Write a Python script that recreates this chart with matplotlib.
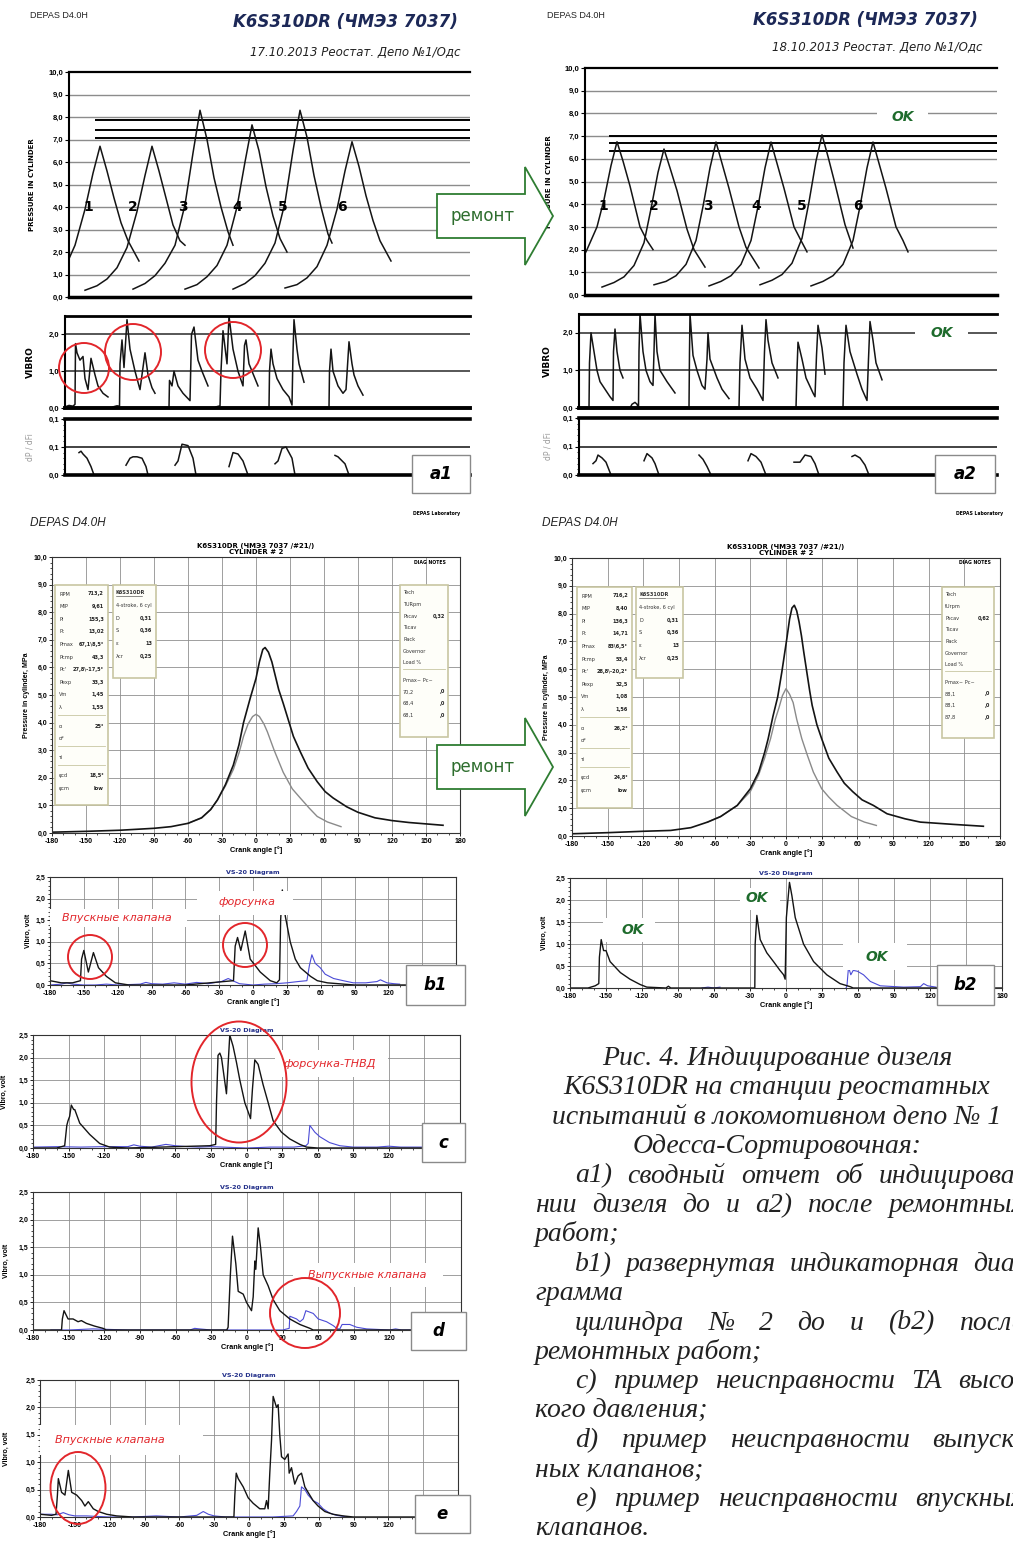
import numpy as np
import matplotlib
matplotlib.use("Agg")
import matplotlib.pyplot as plt
from matplotlib.patches import Rectangle, Polygon, Ellipse
from matplotlib.ticker import MultipleLocator

W, H = 1013, 1543

# ---------------- a1 / a2 : summary reports (6 cylinders) ----------------
# sheet x units: pixels from the left edge of the pressure frame
A1_PEAK_X = [31, 83, 131, 183, 231, 283]
A1_REL = [-67, -55, -45, -35, -25, -15, -7, 0, 7, 14, 21, 28]
A1_END = [39, 33, 33, 35, 32, 39]
A1_P = [
    [0.3, 0.5, 0.8, 1.3, 2.3, 3.9, 5.5, 6.7, 5.6, 4.4, 3.3, 2.5, 1.6],
    [0.3, 0.5, 0.8, 1.3, 2.2, 3.8, 5.4, 6.7, 5.6, 4.4, 3.2, 2.5, 2.3],
    [0.35, 0.6, 0.95, 1.5, 2.3, 4.1, 6.4, 8.3, 7.0, 5.3, 4.0, 2.9, 2.3],
    [0.35, 0.55, 0.9, 1.4, 2.3, 4.0, 6.0, 7.65, 6.5, 4.9, 3.6, 2.6, 2.0],
    [0.35, 0.6, 0.95, 1.5, 2.4, 4.2, 6.5, 8.3, 7.1, 5.4, 4.0, 2.8, 2.4],
    [0.4, 0.55, 0.85, 1.35, 2.3, 3.9, 5.6, 6.9, 5.8, 4.5, 3.4, 2.5, 1.6],
]
A1_NUM_X = [19, 64, 114, 168, 214, 273]
A1_LIMITS = [7.87, 7.42, 7.07]

A1_VIB_X = [
    [-4, 0, 4, 6, 6.5, 8, 11, 14, 16, 19, 22, 26, 29, 34, 39],
    [44, 48, 50.5, 51, 53, 55, 58, 61, 66, 71, 76, 79, 83, 86],
    [100, 100.5, 103, 105, 109, 114, 121, 122.5, 125, 129, 133, 139],
    [147, 151, 152, 154, 158, 160, 164, 169, 174, 175.5, 177, 180, 183, 189],
    [200, 200.5, 202, 204, 208, 214, 220, 223, 224, 225, 228, 230, 234, 235],
    [260, 260.5, 262, 264, 269, 274, 277, 280, 283, 285, 289, 294],
]
A1_VIB_Y = [
    [0.03, 0.07, 0.05, 0.1, 1.75, 1.5, 1.3, 1.4, 0.8, 0.5, 1.35, 0.9, 0.6, 0.4, 0.3],
    [0.03, 0.06, 0.05, 1.2, 1.85, 1.1, 2.4, 1.6, 1.0, 0.5, 1.5, 0.9, 0.55, 0.4],
    [0.0, 0.75, 0.6, 1.0, 0.6, 0.4, 0.2, 2.0, 2.2, 1.3, 1.0, 0.6],
    [0.03, 0.06, 1.0, 2.1, 1.2, 2.5, 1.6, 1.0, 0.6, 1.7, 1.85, 1.2, 1.0, 0.6],
    [0.0, 1.0, 1.6, 1.2, 0.8, 0.5, 0.3, 0.08, 1.5, 2.4, 1.6, 1.2, 0.8, 0.7],
    [0.0, 1.0, 1.6, 1.0, 0.6, 0.4, 0.5, 1.8, 1.2, 0.9, 0.6, 0.35],
]
A1_DP_X = [
    [10, 12, 14, 18, 22, 25],
    [57, 61, 64, 68, 73, 77, 79],
    [106, 109, 113, 119, 124, 127],
    [160, 164, 169, 174, 179],
    [206, 209, 213, 217, 223, 226],
    [266, 269, 276, 280],
]
A1_DP_Y = [
    [0.08, 0.085, 0.075, 0.06, 0.03, 0.0],
    [0.035, 0.06, 0.065, 0.065, 0.06, 0.03, 0.0],
    [0.035, 0.05, 0.11, 0.105, 0.06, 0.0],
    [0.03, 0.08, 0.075, 0.05, 0.0],
    [0.04, 0.05, 0.095, 0.1, 0.06, 0.0],
    [0.07, 0.065, 0.04, 0.0],
]

A2_PEAK_X = [32, 79, 131, 186, 237, 288]
A2_REL = [-62, -50, -40, -30, -20, -13, -6, 0, 6, 13, 23, 30]
A2_END = [36, 41, 43, 36, 31, 35]
A2_P = [
    [0.3, 0.6, 1.1, 2.0, 3.0, 4.2, 5.7, 6.75, 5.9, 4.8, 3.0, 2.4, 2.0],
    [0.35, 0.55, 0.8, 1.3, 2.3, 3.8, 5.4, 6.43, 5.6, 4.6, 2.9, 2.0, 1.23],
    [0.45, 0.6, 0.85, 1.35, 2.4, 3.9, 5.6, 6.74, 5.8, 4.7, 3.0, 2.1, 1.19],
    [0.4, 0.6, 0.85, 1.35, 2.4, 3.9, 5.6, 6.74, 5.8, 4.7, 3.0, 2.4, 1.9],
    [0.45, 0.65, 0.9, 1.4, 2.5, 4.1, 5.9, 7.06, 6.1, 4.9, 3.1, 2.2, 2.07],
    [0.4, 0.6, 0.85, 1.35, 2.4, 3.9, 5.6, 6.74, 5.8, 4.7, 3.0, 2.4, 1.9],
]
A2_NUM_X = [18, 69, 123, 171, 217, 273]
A2_LIMITS = [7.0, 6.68, 6.34]

A2_VIB_X = [
    [-6, 4, 4.5, 6, 9, 12, 15, 20, 25, 28, 28.5, 30, 32, 35, 38],
    [45, 47, 50, 52, 53.5, 54, 55, 58, 61, 65, 68, 69, 70, 72, 75, 82, 90],
    [104, 104.5, 105, 108, 112, 117, 120, 122, 123, 125, 132, 137, 144],
    [154, 155, 157, 160, 165, 172, 178, 179.5, 181, 183, 187, 193],
    [211, 212, 213, 217, 221, 228, 230, 231.5, 233, 237, 240],
    [258, 259, 261, 265, 272, 277, 282, 283.5, 285, 288, 291, 297],
]
A2_VIB_Y = [
    [0, 0, 1.2, 2.0, 1.5, 1.0, 0.7, 0.5, 0.3, 0.2, 1.5, 2.1, 1.5, 1.0, 0.8],
    [0, 0.1, 0.15, 0.1, 0.0, 1.5, 2.5, 1.5, 1.0, 0.7, 0.6, 1.5, 2.5, 1.5, 1.0, 0.7, 0.4],
    [0, 1.5, 2.5, 1.4, 1.0, 0.6, 0.5, 1.3, 2.0, 1.3, 0.8, 0.5, 0.25],
    [0, 1.2, 2.2, 1.3, 0.8, 0.5, 0.2, 1.5, 2.35, 1.8, 1.2, 0.8],
    [0, 1.0, 1.75, 1.3, 0.8, 0.4, 0.3, 1.4, 2.2, 1.6, 0.9],
    [0, 1.2, 2.2, 1.5, 0.9, 0.5, 0.2, 1.3, 2.3, 1.8, 1.2, 0.75],
]
A2_DP_X = [
    [8, 11, 13, 17, 21, 26],
    [59, 62, 67, 70, 74],
    [114, 118, 122, 126],
    [163, 166, 171, 176, 181],
    [209, 215, 220, 226, 230, 234],
    [267, 270, 275, 280, 284],
]
A2_DP_Y = [
    [0.04, 0.05, 0.07, 0.06, 0.045, 0.0],
    [0.05, 0.075, 0.06, 0.04, 0.0],
    [0.07, 0.055, 0.03, 0.0],
    [0.05, 0.075, 0.065, 0.045, 0.0],
    [0.045, 0.045, 0.07, 0.065, 0.04, 0.0],
    [0.065, 0.07, 0.06, 0.035, 0.0],
]

# ---------------- b1 / b2 : cylinder 2 pressure, crank angle in degrees ----------------
B1_ANG = [-180, -150, -120, -90, -75, -60, -48, -40, -34, -27, -20, -15, -11, -5, 0, 3, 6, 8, 11, 14, 17, 20,
          24, 27, 33, 39, 46, 54, 61, 68, 80, 90, 105, 120, 135, 150, 165]
B1_PCYL = [0.03, 0.06, 0.1, 0.17, 0.23, 0.35, 0.55, 0.85, 1.2, 1.75, 2.46, 3.2, 4.0, 4.9, 5.6, 6.2, 6.65, 6.72,
           6.55, 6.2, 5.7, 5.2, 4.7, 4.3, 3.5, 2.95, 2.35, 1.86, 1.5, 1.27, 0.95, 0.75, 0.55, 0.45, 0.38, 0.33, 0.28]
B1_MOT_ANG = [-60, -48, -40, -34, -27, -20, -15, -11, -7, -3, 0, 3, 7, 10, 16, 24, 32, 39, 47, 54, 63, 75]
B1_PMOT = [0.35, 0.55, 0.85, 1.2, 1.7, 2.3, 2.9, 3.5, 3.95, 4.22, 4.3, 4.22, 3.95, 3.67, 3.0, 2.2, 1.6, 1.27,
           0.9, 0.6, 0.4, 0.23]

B2_ANG = [-180, -150, -120, -97, -80, -66, -55, -41, -30, -23, -18, -15, -11, -7, -3.5, 0.7, 3, 5, 7, 9, 11, 13,
          15, 17.5, 20, 22, 26, 30, 36, 43, 49, 56, 64, 73.5, 85, 100, 113, 140, 166]
B2_PCYL = [0.08, 0.12, 0.17, 0.2, 0.3, 0.5, 0.7, 1.1, 1.7, 2.3, 3.0, 3.5, 4.3, 5.0, 5.9, 7.1, 7.8, 8.2, 8.3, 8.1,
           7.7, 7.2, 6.6, 5.9, 5.2, 4.7, 4.0, 3.5, 2.8, 2.3, 1.9, 1.6, 1.3, 1.1, 0.8, 0.62, 0.5, 0.42, 0.35]
B2_MOT_ANG = [-66, -55, -41, -30, -23, -18, -13, -9, -6, -3, 0, 3, 6, 9, 13.3, 18, 23, 30, 36, 43, 55, 66, 76]
B2_PMOT = [0.5, 0.7, 1.1, 1.6, 2.2, 2.8, 3.5, 4.2, 4.6, 5.05, 5.3, 5.1, 4.8, 4.2, 3.5, 2.9, 2.3, 1.7, 1.4, 1.1,
           0.7, 0.5, 0.38]

B1_BOX1 = [("RPM", "713,2"), ("MIP", "9,61"), ("Pi", "155,3"), ("Pt", "13,02"), ("Pmax", "67,1\\8,5°"),
           ("Pcmp", "43,3"), ("Pc'", "27,8\\-17,5°"), ("Pexp", "33,3"), ("Vm", "1,45"), ("λ", "1,55"), None,
           ("α", "25°"), ("α*", ""), None, ("τi", ""), None, ("φcd", "18,5°"), ("φcm", "low")]
B2_BOX1 = [("RPM", "716,2"), ("MIP", "8,40"), ("Pi", "136,3"), ("Pt", "14,71"), ("Pmax", "83\\6,5°"),
           ("Pcmp", "53,4"), ("Pc'", "28,8\\-20,2°"), ("Pexp", "32,5"), ("Vm", "1,08"), ("λ", "1,56"), None,
           ("α", "26,2°"), ("α*", ""), None, ("τi", ""), None, ("φcd", "24,8°"), ("φcm", "low")]
ENGINE_BOX = [("K6S310DR", ""), ("4-stroke, 6 cyl", ""), ("D", "0,31"), ("S", "0,36"), ("ε", "13"), ("λcr", "0,25")]
B1_BOX3 = [("Tech", ""), ("TURpm", ""), ("Pscav", "0,32"), ("Tscav", ""), ("Rack", ""), ("Governor", ""),
           ("Load %", ""), None, ("Pmax~ Pc~", ""), ("70,2", ",0"), ("68,4", ",0"), ("68,1", ",0")]
B2_BOX3 = [("Tech", ""), ("tUrpm", ""), ("Pscav", "0,62"), ("Tscav", ""), ("Rack", ""), ("Governor", ""),
           ("Load %", ""), None, ("Pmax~ Pc~", ""), ("88,1", ",0"), ("88,1", ",0"), ("87,8", ",0")]

# ---------------- vibration diagrams (VS-20), crank angle in degrees ----------------
B1V_ANG = [-180, -170, -160, -153, -152, -150, -146, -141.5, -137, -130, -122, -110, -60, -17.3, -15.8, -13.7,
           -10.8, -6.9, -2.5, 2, 6.4, 15.3, 21, 23.5, 24.5, 26, 28.6, 33, 37.5, 42, 51, 57, 66, 90, 180]
B1V_BLK = [0.1, 0.05, 0.05, 0.1, 0.6, 0.8, 0.3, 0.75, 0.4, 0.2, 0.05, 0.0, 0.0, 0.1, 0.9, 1.1,
           0.8, 1.25, 0.6, 0.45, 0.3, 0.1, 0.05, 0.12, 1.5, 2.2, 1.6, 1.0, 0.6, 0.4, 0.2, 0.1, 0.05, 0.0, 0.0]
B1V_BLUE_ANG = [-180, -170, -165, -160, -150, -140, -130, -120, -100, -95, -90, -80, -70, -60, -50, -40, -28, -22,
                -18, -12, 0, 10, 20, 30, 40, 47.8, 50, 52.2, 55.2, 59.6, 64, 71.5, 80, 89, 100, 110, 113, 118.8, 125, 130]
B1V_BLUE = [0.0, 0.02, 0.05, 0.02, 0.0, 0.0, 0.02, 0.0, 0.02, 0.06, 0.03, 0.02, 0.05, 0.02, 0.06, 0.03, 0.08, 0.15,
            0.1, 0.03, 0.0, 0.02, 0.03, 0.05, 0.08, 0.1, 0.45, 0.7, 0.5, 0.4, 0.25, 0.15, 0.1, 0.05, 0.05, 0.08, 0.12, 0.05, 0.03, 0.02]

B2V_ANG = [-180, -165, -159, -156, -155.5, -154, -152, -150, -146.6, -138, -130, -121.6, -116, -100, -98, -96, -60,
           -26, -25.7, -24.3, -21.5, -16, -10.4, -5, -2, -0.7, 0.3, 2.9, 4.9, 7.7, 14.6, 23, 34, 45, 53.5, 56, 180]
B2V_BLK = [0.0, 0.0, 0.05, 0.1, 0.7, 1.1, 0.85, 0.85, 0.6, 0.35, 0.2, 0.08, 0.02, 0.0, 0.04, 0.0, 0.0,
           0.0, 1.0, 1.65, 1.1, 0.8, 0.6, 0.4, 0.3, 0.2, 1.6, 2.4, 2.1, 1.6, 1.0, 0.6, 0.3, 0.1, 0.03, 0.0, 0.0]
B2V_BLUE_ANG = [-70, -65, -60, -55, -50, 50, 50.8, 52.1, 54, 56, 59.6, 64.6, 70.2, 78.5, 98, 112, 114.7, 118, 125]
B2V_BLUE = [0.0, 0.02, 0.0, 0.02, np.nan, 0.0, 0.05, 0.48, 0.3, 0.4, 0.38, 0.3, 0.15, 0.05, 0.02, 0.03, 0.1, 0.05, 0.02]

C_ANG = [-180, -160, -153.3, -151.5, -150.5, -149.1, -147.7, -145.7, -144.8, -140.6, -132.2, -123.8, -115.3, -100,
         -31, -26, -25.3, -24, -22.5, -21.1, -16.9, -14.1, -11.3, -8.5, -5.6, -1.4, 1.4, 3.4, 5, 7, 9.8, 14, 18.3,
         22.5, 29.5, 36.5, 45, 50.6, 60, 180]
C_BLK = [0.0, 0.0, 0.05, 0.5, 0.6, 0.7, 0.95, 0.85, 0.85, 0.55, 0.3, 0.1, 0.02, 0.0,
         0.05, 0.08, 1.0, 2.05, 2.1, 2.0, 1.2, 2.5, 2.25, 1.9, 1.5, 1.0, 0.8, 0.65, 1.3, 1.95, 1.85, 1.4, 1.0,
         0.6, 0.35, 0.2, 0.08, 0.02, 0.0, 0.0]
C_BLUE_ANG = [-180, -160, -140, -120, -100, -95, -90, -80, -72, -68, -60, -50, -40, -30, -20, 0, 20, 40, 50, 52,
              53.4, 57.6, 61.8, 70, 78.7, 90, 110, 120, 125, 130, 150]
C_BLUE = [0.02, 0.03, 0.02, 0.03, 0.03, 0.07, 0.04, 0.02, 0.06, 0.08, 0.05, 0.03, 0.02, 0.03, 0.02, 0.0, 0.02, 0.02,
          0.05, 0.1, 0.5, 0.35, 0.25, 0.12, 0.05, 0.02, 0.02, 0.04, 0.03, 0.02, 0.02]

D_ANG = [-180, -156, -155.3, -153.9, -150.5, -146.3, -142.1, -139.3, -135.1, -128.1, -121.1, -118.3, -100, -17,
         -15.9, -14, -12.2, -9.4, -7.4, -3.2, -0.4, 2.4, 3.8, 5.2, 6.6, 7.4, 9.4, 11.4, 13.6, 17.8, 22, 27.6, 36,
         44.5, 52.9, 55.7, 180]
D_BLK = [0.0, 0.0, 0.2, 0.35, 0.2, 0.2, 0.15, 0.17, 0.12, 0.07, 0.03, 0.0, 0.0, 0.0,
         0.05, 1.0, 1.7, 1.2, 0.7, 0.65, 0.5, 0.4, 0.35, 0.6, 1.25, 1.1, 1.85, 1.5, 1.0, 0.8, 0.55, 0.35, 0.2,
         0.1, 0.03, 0.0, 0.0]
D_BLUE_ANG = [-165, -150, -130, -100, -60, -48, -44, -40, -30, -10, 10, 30, 35.5, 36, 41.7, 44.5, 47.3, 49.5, 55.7,
              59.9, 66.9, 72.5, 76, 78.1, 80, 86.5, 92.2, 100.6, 120, 125, 130, 140]
D_BLUE = [0.0, 0.0, 0.02, 0.0, 0.0, 0.0, 0.03, 0.02, 0.0, 0.0, 0.0, 0.0, 0.03, 0.25, 0.2, 0.15, 0.2, 0.35, 0.3,
          0.2, 0.15, 0.08, 0.02, 0.02, 0.1, 0.1, 0.05, 0.02, 0.0, 0.02, 0.0, 0.0]

E_ANG = [-180, -170, -166.2, -165, -164.2, -161.4, -158.5, -155.6, -152.7, -148.4, -144.1, -141.3, -138.4, -134.1,
         -129.8, -122.6, -114, -100, -13, -12.2, -11, -9.3, -5, -0.7, 3.6, 9.3, 13.6, 15.1, 16.5, 17.9, 19.4, 20.8,
         23.7, 25.1, 26.5, 28, 30.8, 33.7, 34.6, 36.6, 39.4, 42.3, 45.2, 48.1, 50.9, 55.2, 59.5, 65.3, 72.4, 81, 90, 180]
E_BLK = [0.05, 0.03, 0.05, 0.4, 0.7, 0.45, 0.4, 0.85, 0.45, 0.4, 0.3, 0.2, 0.28, 0.15,
         0.1, 0.05, 0.02, 0.0, 0.0, 0.4, 0.8, 0.7, 0.55, 0.35, 0.25, 0.15, 0.15, 0.3, 0.15, 0.8, 1.4, 2.2,
         2.0, 2.05, 1.5, 1.1, 1.05, 1.15, 0.8, 0.9, 0.6, 0.75, 0.8, 0.55, 0.45, 0.3, 0.2, 0.1, 0.05, 0.02, 0.0, 0.0]
E_BLUE_ANG = [-180, -170, -165, -160, -155, -150, -140, -120, -100, -80, -60, -45, -39.4, -35, -30, -20, 0, 20, 38,
              40.9, 43.8, 45.2, 48.1, 50.9, 55.2, 59.5, 63.8, 69.6, 75.3, 85]
E_BLUE = [0.05, 0.05, 0.04, 0.08, 0.04, 0.02, 0.02, 0.0, 0.0, 0.02, 0.0, 0.03, 0.1, 0.05, 0.02, 0.0, 0.0, 0.0, 0.02,
          0.1, 0.2, 0.55, 0.5, 0.4, 0.3, 0.25, 0.15, 0.07, 0.03, 0.0]

CAPTION = [
    ("Рис. 4. Индицирование дизеля", "center"),
    ("K6S310DR на станции реостатных", "center"),
    ("испытаний в локомотивном депо № 1", "center"),
    ("Одесса-Сортировочная:", "center"),
    ("a1) сводный отчет об индицирова-", "indent"),
    ("нии дизеля до и a2) после ремонтных", "just"),
    ("работ;", "left"),
    ("b1) развернутая индикаторная диа-", "indent"),
    ("грамма", "left"),
    ("цилиндра № 2 до и (b2) после", "indent"),
    ("ремонтных работ;", "left"),
    ("c) пример неисправности ТА высо-", "indent"),
    ("кого давления;", "left"),
    ("d) пример неисправности выпуск-", "indent"),
    ("ных клапанов;", "left"),
    ("e) пример неисправности впускных", "indent"),
    ("клапанов.", "left"),
]

BLACK = "#141414"
BLUE = "#4b4bd6"
RED = "#e2262b"
GREEN = "#1e6b2c"
TICK_FONT = dict(fontsize=5.5, fontweight="bold", family="Liberation Sans")
SMALL_FONT = dict(fontsize=5.0, fontweight="bold", family="Liberation Sans")

fig = plt.figure(figsize=(W / 100, H / 100), dpi=100)


def px_axes(x0, y0, x1, y1):
    return fig.add_axes([x0 / W, 1 - y1 / H, (x1 - x0) / W, (y1 - y0) / H])


def draw_summary(pp, vp, dp, lab_x, peaks, rel, ends, curves, num_x, num_y, limits, lim_x0,
                 vib_x, vib_y, dp_x, dp_y):
    off = pp[0]
    # pressure
    ax = px_axes(*pp)
    ax.set_xlim(0, pp[2] - off)
    ax.set_ylim(0, 10)
    ax.set_xticks([])
    ax.set_yticks(range(11))
    ax.set_yticklabels([f"{v},0" for v in range(11)], **TICK_FONT)
    for v in range(1, 10):
        ax.axhline(v, color="#8c8c8c", lw=1.0, zorder=0)
    ax.hlines(limits, lim_x0, pp[2] - off, color="black", lw=1.4)
    for pk, vals, end in zip(peaks, curves, ends):
        xs = [pk + r for r in rel] + [pk + end]
        ax.plot(xs, vals, color=BLACK, lw=1.1)
    for i, x in enumerate(num_x):
        ax.text(x, num_y, str(i + 1), fontsize=10, fontweight="bold", ha="center", va="center")
    ax.spines["right"].set_visible(False)
    ax.spines["top"].set_linewidth(1.6)
    ax.spines["bottom"].set_linewidth(2.5)
    ax.spines["left"].set_linewidth(1.5)
    ax.tick_params(axis="y", length=3, width=0.8, pad=1)
    ax.set_ylabel("PRESSURE IN CYLINDER", fontsize=5, fontweight="bold")
    ax.yaxis.set_label_coords((lab_x - pp[0]) / (pp[2] - pp[0]), 0.5)

    # vibration
    av = px_axes(*vp)
    av.set_xlim(vp[0] - off, vp[2] - off)
    av.set_ylim(0, 2.5)
    av.set_xticks([])
    av.set_yticks([0, 1, 2])
    av.set_yticklabels(["0,0", "1,0", "2,0"], **TICK_FONT)
    for v in (1, 2):
        av.axhline(v, color="#3a3a3a", lw=1.2, zorder=0)
    for xs, ys in zip(vib_x, vib_y):
        av.plot(xs, ys, color=BLACK, lw=1.1)
    av.spines["right"].set_visible(False)
    av.spines["top"].set_linewidth(2.0)
    av.spines["bottom"].set_linewidth(2.8)
    av.spines["left"].set_linewidth(1.5)
    av.tick_params(axis="y", length=3, width=0.8, pad=1)
    av.set_ylabel("VIBRO", fontsize=6.5, fontweight="bold")
    av.yaxis.set_label_coords((lab_x - vp[0]) / (vp[2] - vp[0]), 0.5)

    # dP / dFi
    ad = px_axes(*dp)
    ad.set_xlim(dp[0] - off, dp[2] - off)
    ad.set_ylim(0, 0.2)
    ad.set_xticks([])
    ad.set_yticks([0, 0.1, 0.2])
    ad.set_yticklabels(["0,0", "0,1", "0,1"], **TICK_FONT)
    ad.yaxis.set_minor_locator(MultipleLocator(0.02))
    ad.axhline(0.1, color="#222", lw=1.2, zorder=0)
    for xs, ys in zip(dp_x, dp_y):
        ad.plot(xs, ys, color=BLACK, lw=1.1)
    ad.spines["right"].set_visible(False)
    ad.spines["top"].set_linewidth(2.6)
    ad.spines["bottom"].set_linewidth(2.6)
    ad.spines["left"].set_linewidth(1.5)
    ad.tick_params(axis="y", length=3, width=0.8, pad=1)
    ad.tick_params(axis="y", which="minor", length=1.5, width=0.6)
    ad.set_ylabel("dP / dFi", fontsize=5.5, color="#9a9a9a")
    ad.yaxis.set_label_coords((lab_x - dp[0]) / (dp[2] - dp[0]), 0.5)


def style_diag(ax, lab_x, pos, ymax, ystep, ylabel, hidden=()):
    ax.set_xlim(-180, 180)
    ax.set_ylim(0, ymax)
    ax.set_xticks(range(-180, 181, 30))
    ax.set_xticklabels(["" if v in hidden else str(v) for v in range(-180, 181, 30)], **SMALL_FONT)
    yt = np.arange(0, ymax + 1e-9, ystep)
    ax.set_yticks(yt)
    ax.set_yticklabels([f"{v:.1f}".replace(".", ",") for v in yt], **SMALL_FONT)
    ax.xaxis.set_minor_locator(MultipleLocator(10))
    ax.yaxis.set_minor_locator(MultipleLocator(ystep / 5))
    ax.tick_params(which="major", length=2.5, width=0.6, pad=1)
    ax.tick_params(which="minor", length=1.3, width=0.5)
    ax.grid(True, which="major", color="#8f8f8f", lw=0.6)
    ax.set_axisbelow(True)
    for s in ax.spines.values():
        s.set_color("#333")
        s.set_linewidth(0.8)
    ax.set_xlabel("Crank angle [°]", fontsize=5.3, fontweight="bold", labelpad=1, family="Liberation Sans")
    ax.set_ylabel(ylabel, fontsize=5, fontweight="bold", family="Liberation Sans")
    ax.yaxis.set_label_coords((lab_x - pos[0]) / (pos[2] - pos[0]), 0.5)


def draw_pressure(pos, lab_x, ang, pcyl, mang, pmot):
    ax = px_axes(*pos)
    ax.plot(mang, pmot, color="#8a8a8a", lw=1.0)
    ax.plot(ang, pcyl, color=BLACK, lw=1.2)
    style_diag(ax, lab_x, pos, 10, 1.0, "Pressure in cylinder, MPa")
    ax.set_yticklabels([f"{v},0" for v in range(11)], **SMALL_FONT)
    ax.set_title("K6S310DR (ЧМЭ3 7037 /#21/)\nCYLINDER # 2", fontsize=5, fontweight="bold",
                 pad=2, linespacing=1.0)
    return ax


def draw_vibro(pos, lab_x, ang, blk, bang, blue, hidden):
    ax = px_axes(*pos)
    ax.plot(bang, blue, color=BLUE, lw=0.8)
    ax.plot(ang, blk, color=BLACK, lw=1.0)
    style_diag(ax, lab_x, pos, 2.5, 0.5, "Vibro, volt", hidden)
    ax.set_title("VS-20 Diagram", fontsize=4.6, color="#23308a", fontweight="bold", pad=2)
    return ax


# ----- summary reports -----
draw_summary((69, 72, 470, 297), (65, 316, 470, 408), (65, 419, 470, 475), 35,
             A1_PEAK_X, A1_REL, A1_END, A1_P, A1_NUM_X, 4.0, A1_LIMITS, 26,
             A1_VIB_X, A1_VIB_Y, A1_DP_X, A1_DP_Y)
draw_summary((585, 68, 997, 295), (579, 314, 997, 408), (579, 418, 997, 475), 552,
             A2_PEAK_X, A2_REL, A2_END, A2_P, A2_NUM_X, 3.9, A2_LIMITS, 24,
             A2_VIB_X, A2_VIB_Y, A2_DP_X, A2_DP_Y)

# ----- expanded diagrams -----
draw_pressure((52, 557, 460, 833), 30, B1_ANG, B1_PCYL, B1_MOT_ANG, B1_PMOT)
draw_pressure((572, 558, 1000, 836), 550, B2_ANG, B2_PCYL, B2_MOT_ANG, B2_PMOT)
draw_vibro((50, 877, 456, 985), 32, B1V_ANG, B1V_BLK, B1V_BLUE_ANG, B1V_BLUE, (150, 180))
draw_vibro((570, 878, 1002, 988), 548, B2V_ANG, B2V_BLK, B2V_BLUE_ANG, B2V_BLUE, (150,))
draw_vibro((33, 1035, 460, 1148), 8, C_ANG, C_BLK, C_BLUE_ANG, C_BLUE, (150, 180))
draw_vibro((33, 1192, 461, 1330), 10, D_ANG, D_BLK, D_BLUE_ANG, D_BLUE, (150, 180))
draw_vibro((40, 1380, 458, 1517), 10, E_ANG, E_BLK, E_BLUE_ANG, E_BLUE, (150, 180))

# ----- overlay in sheet pixels: headers, notes, arrows, marks -----
ov = fig.add_axes([0, 0, 1, 1])
ov.set_xlim(0, W)
ov.set_ylim(H, 0)
ov.axis("off")
ov.patch.set_visible(False)

for x_dep, x_t, y_t, x_s, y_s, date in [(30, 345, 22, 460, 52, "17.10.2013"),
                                         (547, 865, 20, 982, 47, "18.10.2013")]:
    ov.text(x_dep, 15, "DEPAS D4.0H", fontsize=6.5, family="Liberation Sans", va="center", color="#222")
    ov.text(x_t, y_t, "K6S310DR (ЧМЭ3 7037)", fontsize=12, fontweight="bold", fontstyle="italic",
            color="#1c2857", ha="center", va="center")
    ov.text(x_s, y_s, date + " Реостат. Депо №1/Одс", fontsize=8.5, fontstyle="italic",
            ha="right", va="center", color="#222")

for x_dep, x_lab, x_diag in [(30, 437, 430), (542, 980, 975)]:
    ov.text(x_dep, 523, "DEPAS D4.0H", fontsize=8.5, fontstyle="italic", family="Liberation Sans",
            va="center", color="#222")
    ov.text(x_lab, 514, "DEPAS Laboratory", fontsize=3.3, fontweight="bold", ha="center", va="center")
    ov.text(x_diag, 563, "DIAG NOTES", fontsize=3.3, fontweight="bold", ha="center", va="center")


def info_box(x0, y0, x1, y1, rows, lab_x, val_x, y_first, step=12.6, sep=6.0, head=False):
    ov.add_patch(Rectangle((x0, y0), x1 - x0, y1 - y0, fc="#fefef9", ec="#c8c6a2", lw=1.2))
    y = y_first
    for i, row in enumerate(rows):
        if row is None:
            ov.plot([x0 + 3, x1 - 3], [y - step / 2 + 1, y - step / 2 + 1], color="#c8c6a2", lw=0.6)
            y += sep
            continue
        lab, val = row
        weight = "bold" if (head and i == 0) else "normal"
        ov.text(lab_x, y, lab, fontsize=3.6, color="#333", va="center", fontweight=weight)
        if head and i == 0:
            ov.plot([lab_x, lab_x + 26], [y + 3, y + 3], color="#333", lw=0.4)
        if val:
            ov.text(val_x, y, val, fontsize=3.6, color="#222", va="center", ha="right", fontweight="bold")
        y += step


info_box(55, 585, 108, 805, B1_BOX1, 59, 104, 594)
info_box(113, 585, 156, 678, ENGINE_BOX, 116, 152, 593, head=True)
info_box(400, 585, 448, 737, B1_BOX3, 403, 445, 593, step=11.6)
info_box(577, 587, 632, 808, B2_BOX1, 581, 628, 596)
info_box(636, 587, 683, 678, ENGINE_BOX, 639, 679, 595, head=True)
info_box(942, 587, 994, 738, B2_BOX3, 945, 990, 595, step=11.6)

# white label areas and annotations
COVER = dict(fc="white", ec="none")
for (x0, y0, x1, y1) in [(50, 909, 187, 927), (197, 891, 293, 915), (275, 1050, 388, 1077),
                         (293, 1263, 443, 1287), (40, 1425, 203, 1455),
                         (603, 918, 655, 942), (740, 888, 780, 910), (843, 943, 907, 970),
                         (877, 107, 928, 126), (915, 325, 968, 341)]:
    ov.add_patch(Rectangle((x0, y0), x1 - x0, y1 - y0, **COVER))

RED_TXT = dict(color=RED, fontstyle="italic", fontsize=8, ha="center", va="center")
ov.text(117, 918, "Впускные клапана", **RED_TXT)
ov.text(247, 902, "форсунка", **RED_TXT)
ov.text(330, 1064, "форсунка-ТНВД", **RED_TXT)
ov.text(367, 1275, "Выпускные клапана", **RED_TXT)
ov.text(110, 1440, "Впускные клапана", **RED_TXT)

OK_TXT = dict(color=GREEN, fontstyle="italic", fontweight="bold", fontsize=10, ha="center", va="center")
for x, y in [(903, 117), (942, 333), (633, 930), (757, 898), (877, 957)]:
    ov.text(x, y, "OK", **OK_TXT)

for cx, cy, w, h in [(84, 368, 50, 50), (133, 352, 56, 56), (233, 350, 56, 56),
                     (90, 957, 44, 44), (245, 945, 44, 44), (239, 1082, 95, 121),
                     (305, 1313, 70, 70), (78, 1488, 55, 72)]:
    ov.add_patch(Ellipse((cx, cy), w, h, fill=False, ec=RED, lw=1.4))

for x0, y0, x1, y1, lab in [(412, 455, 470, 493, "a1"), (935, 455, 995, 493, "a2"),
                            (406, 965, 465, 1005, "b1"), (937, 965, 994, 1005, "b2"),
                            (422, 1123, 465, 1162, "c"), (411, 1312, 466, 1350, "d"),
                            (415, 1495, 470, 1533, "e")]:
    ov.add_patch(Rectangle((x0, y0), x1 - x0, y1 - y0, fc="white", ec="#8a8a8a", lw=1.0))
    ov.text((x0 + x1) / 2, (y0 + y1) / 2, lab, fontsize=12, fontweight="bold", fontstyle="italic",
            ha="center", va="center")

# "ремонт" arrows
for yc in (216, 767):
    pts = [(437, yc - 22), (525, yc - 22), (525, yc - 49), (553, yc), (525, yc + 49),
           (525, yc + 22), (437, yc + 22)]
    ov.add_patch(Polygon(pts, closed=True, fc="white", ec="#2e7d32", lw=1.3))
    ov.text(483, yc, "ремонт", fontsize=12, color="#2e6e2e", ha="center", va="center")

# caption (justified like the source page)
CAP = dict(fontsize=20, fontstyle="italic", family="Liberation Serif", color="#222", va="baseline")
renderer = fig.canvas.get_renderer()
RIGHT_EDGE = 1024
for i, (line, mode) in enumerate(CAPTION):
    y = 1065 + 29.4 * i
    if mode == "center":
        ov.text(777, y, line, ha="center", **CAP)
    elif mode == "left":
        ov.text(535, y, line, ha="left", **CAP)
    else:
        x0 = 575 if mode == "indent" else 535
        words = line.split()
        widths = []
        for w_ in words:
            t = ov.text(0, 0, w_, **CAP)
            widths.append(t.get_window_extent(renderer).width)
            t.remove()
        gap = (RIGHT_EDGE - x0 - sum(widths)) / (len(words) - 1)
        x = x0
        for w_, wd in zip(words, widths):
            ov.text(x, y, w_, ha="left", **CAP)
            x += wd + gap

fig.savefig("out.png", dpi=100, facecolor="white")
